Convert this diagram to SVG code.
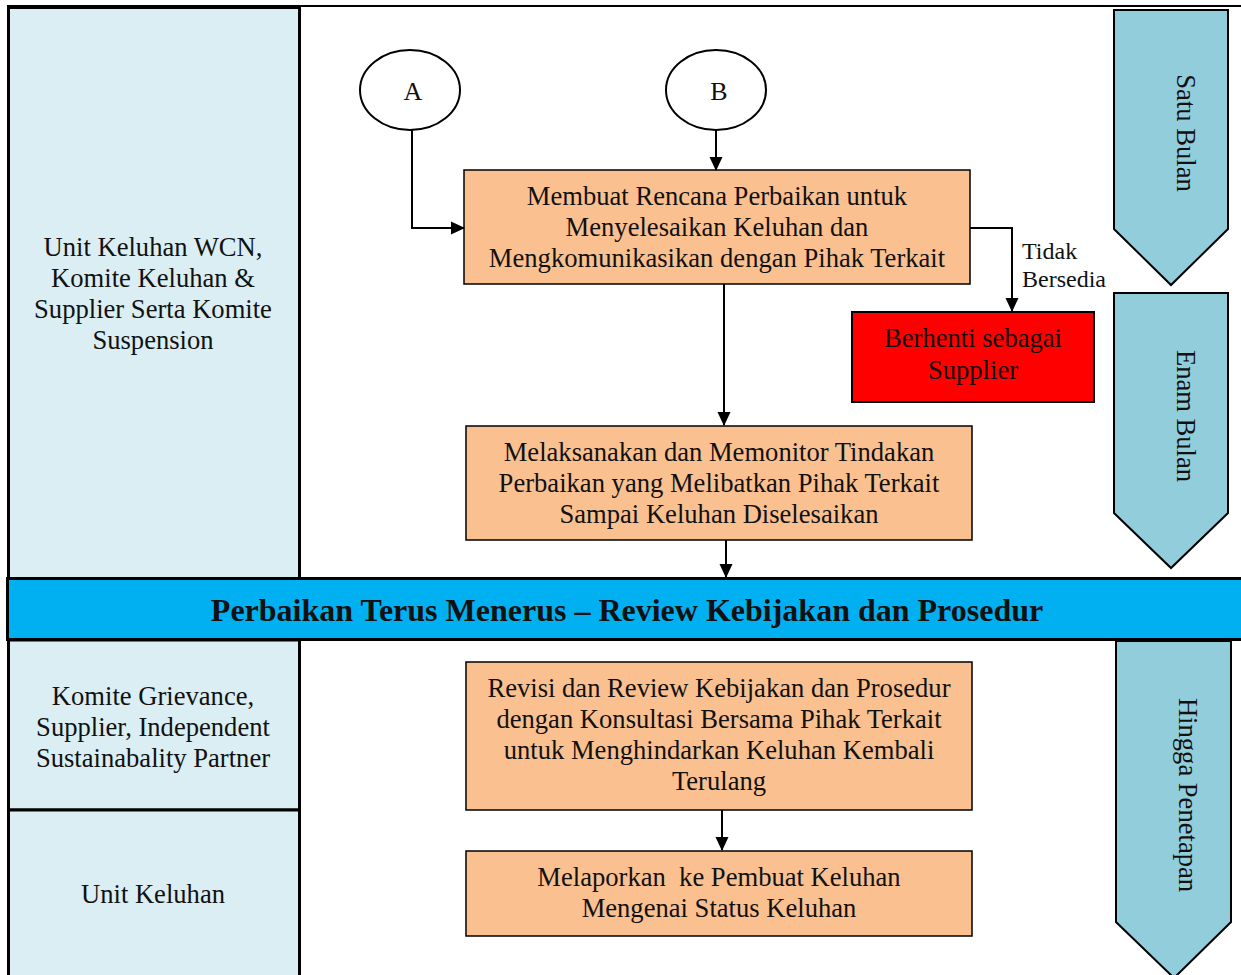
<svg xmlns="http://www.w3.org/2000/svg" width="1241" height="975" viewBox="0 0 1241 975">
<style>
text{font-family:"Liberation Serif","Times New Roman",serif;fill:#111}
.t{font-size:26.6px;text-anchor:middle}
.lane{fill:#DAEEF3;stroke:#000;stroke-width:3}
.box{fill:#FAC090;stroke:#000;stroke-width:1.5}
.tab{fill:#92CDDC;stroke:#000;stroke-width:2}
.c{fill:none;stroke:#000;stroke-width:2}
</style>
<defs>
<marker id="ah" markerWidth="14" markerHeight="14" refX="13" refY="6.5" orient="auto" markerUnits="userSpaceOnUse" viewBox="0 0 14 13">
<path d="M0,0 L14,6.5 L0,13 z" fill="#000"/>
</marker>
</defs>
<rect x="0" y="0" width="1241" height="975" fill="#fff"/>
<line x1="7" y1="6" x2="1241" y2="6" stroke="#000" stroke-width="2"/>

<g id="lane-top">
<rect class="lane" x="8.5" y="7.5" width="291" height="571"/>
<text class="t" x="153" y="256">Unit Keluhan WCN,</text>
<text class="t" x="153" y="287">Komite Keluhan &amp;</text>
<text class="t" x="153" y="318">Supplier Serta Komite</text>
<text class="t" x="153" y="349">Suspension</text>
</g>
<g id="lane-mid">
<rect class="lane" x="8.5" y="640" width="291" height="170"/>
<text class="t" x="153" y="705">Komite Grievance,</text>
<text class="t" x="153" y="736">Supplier, Independent</text>
<text class="t" x="153" y="767">Sustainabality Partner</text>
</g>
<g id="lane-bottom">
<rect class="lane" x="8.5" y="810" width="291" height="170"/>
<text class="t" x="153" y="903">Unit Keluhan</text>
</g>

<g id="band">
<rect x="7.5" y="578.5" width="1240" height="61" fill="#00B0F0" stroke="#000" stroke-width="3"/>
<text x="627" y="621" font-size="32" font-weight="bold" text-anchor="middle">Perbaikan Terus Menerus – Review Kebijakan dan Prosedur</text>
</g>

<g id="tab-satu">
<polygon class="tab" points="1114,10 1228,10 1228,229 1171,285 1114,229"/>
<text class="t" transform="translate(1177,133) rotate(90)" x="0" y="0">Satu Bulan</text>
</g>
<g id="tab-enam">
<polygon class="tab" points="1114,293 1228,293 1228,513 1171,568 1114,513"/>
<text class="t" transform="translate(1177,416) rotate(90)" x="0" y="0">Enam Bulan</text>
</g>
<g id="tab-hingga">
<polygon class="tab" points="1116,641 1231,641 1231,922 1174,978 1116,922"/>
<text class="t" transform="translate(1179,795) rotate(90)" x="0" y="0">Hingga Penetapan</text>
</g>

<g id="node-A">
<ellipse cx="410" cy="90" rx="50" ry="40" fill="#fff" stroke="#000" stroke-width="2"/>
<text x="413" y="100" font-size="26" text-anchor="middle">A</text>
</g>
<g id="node-B">
<ellipse cx="716" cy="90" rx="50" ry="40" fill="#fff" stroke="#000" stroke-width="2"/>
<text x="719" y="100" font-size="26" text-anchor="middle">B</text>
</g>

<g id="node-rencana">
<rect class="box" x="464" y="170" width="506" height="114"/>
<text class="t" x="717" y="205">Membuat Rencana Perbaikan untuk</text>
<text class="t" x="717" y="236">Menyelesaikan Keluhan dan</text>
<text class="t" x="717" y="267">Mengkomunikasikan dengan Pihak Terkait</text>
</g>
<g id="node-berhenti">
<rect x="852" y="312" width="242" height="90" fill="#FF0000" stroke="#000" stroke-width="2"/>
<text class="t" x="973" y="347">Berhenti sebagai</text>
<text class="t" x="973" y="379">Supplier</text>
</g>
<g id="node-melaksanakan">
<rect class="box" x="466" y="426" width="506" height="114"/>
<text class="t" x="719" y="461">Melaksanakan dan Memonitor Tindakan</text>
<text class="t" x="719" y="492">Perbaikan yang Melibatkan Pihak Terkait</text>
<text class="t" x="719" y="523">Sampai Keluhan Diselesaikan</text>
</g>
<g id="node-revisi">
<rect class="box" x="466" y="662" width="506" height="148"/>
<text class="t" x="719" y="697">Revisi dan Review Kebijakan dan Prosedur</text>
<text class="t" x="719" y="728">dengan Konsultasi Bersama Pihak Terkait</text>
<text class="t" x="719" y="759">untuk Menghindarkan Keluhan Kembali</text>
<text class="t" x="719" y="790">Terulang</text>
</g>
<g id="node-melaporkan">
<rect class="box" x="466" y="851" width="506" height="85"/>
<text class="t" x="719" y="886" xml:space="preserve">Melaporkan  ke Pembuat Keluhan</text>
<text class="t" x="719" y="917">Mengenai Status Keluhan</text>
</g>

<g id="connectors">
<polyline class="c" points="412,130 412,228 464,228" marker-end="url(#ah)"/>
<line class="c" x1="716" y1="130" x2="716" y2="170" marker-end="url(#ah)"/>
<polyline class="c" points="970,228 1012,228 1012,311" marker-end="url(#ah)"/>
<line class="c" x1="724" y1="284" x2="724" y2="425" marker-end="url(#ah)"/>
<line class="c" x1="726" y1="540" x2="726" y2="577" marker-end="url(#ah)"/>
<line class="c" x1="722" y1="810" x2="722" y2="850" marker-end="url(#ah)"/>
<text x="1022" y="259" font-size="24">Tidak</text>
<text x="1022" y="287" font-size="24">Bersedia</text>
</g>
</svg>
